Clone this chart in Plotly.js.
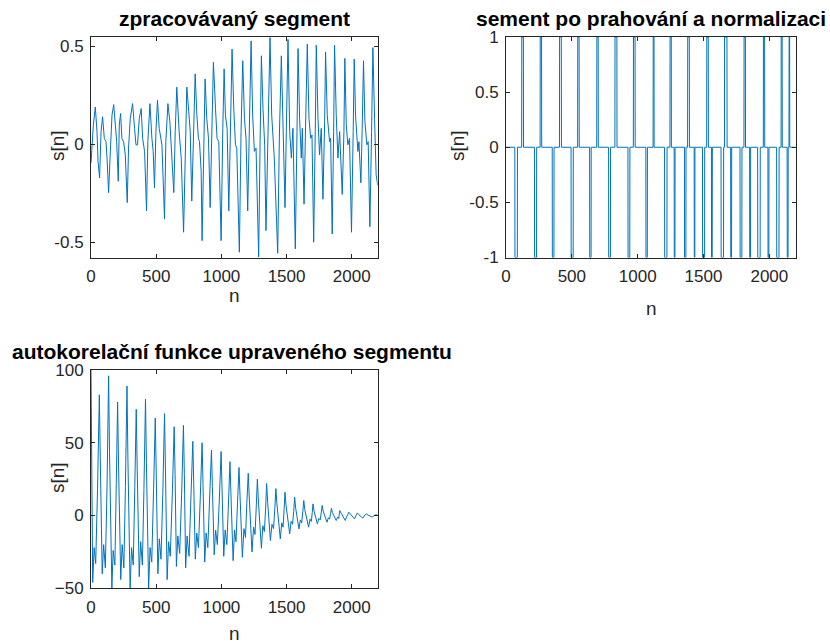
<!DOCTYPE html>
<html>
<head>
<meta charset="utf-8">
<script src="https://cdn.plot.ly/plotly-3.0.1.min.js"></script>
<style>html,body{margin:0;padding:0;background:#fff;}#chart{width:830px;height:643px;}</style>
</head>
<body>
<div id="chart"></div>
<script>
// ---- Data ----
// Subplot 1: processed segment s[n]
const n1 = [0,18,33,46,54,66,77,89,102,115,123,135,146,161,174,186,197,209,217,227,237,250,263,278,288,301,319,334,345,357,370,385,396,411,426,436,452,467,477,487,498,510,523,544,564,574,590,605,620,635,646,658,676,692,710,
725,735,750,761,773,789,799,812,824,832,845,852,865,875,888,901,914,926,939,955,967,980,998,1011,1021,1031,1044,1057,1069,1082,1095,1108,1118,1138,1151,1164,1177,1189,1202,1215,1228,1240,1253,1266,1286,1297,1307,1319,1332,1342,1355,1373,1386,1399,1406,1432,1445,1460,
1473,1480,1488,1498,1511,1524,1537,1549,1567,1580,1588,1600,1613,1621,1634,1646,1659,1672,1685,1695,1708,1720,1728,1741,1753,1766,1779,1792,1799,1812,1830,1838,1850,1861,1868,1881,1894,1907,1927,1940,1947,1958,1970,1983,1998,2011,2019,2029,2047,2055,2070,2080,2090,2101,2116,2126,2139,2152,2162,2175,2187,2199];
const s1 = [-0.096,0.098,0.19,0.064,-0.088,-0.172,0.064,0.14,0.03,0.013,-0.071,-0.247,-0.071,0.148,0.202,0.081,0.013,-0.189,0.098,0.157,0.03,0.013,-0.054,-0.298,-0.02,0.131,0.207,0.081,-0.003,-0.003,0.131,0.182,0.03,-0.037,-0.34,0.013,0.207,0.03,-0.037,-0.222,0.064,0.224,0.081,-0.003,-0.382,0.013,0.207,0.114,-0.071,-0.247,0.064,0.291,0.064,-0.071,-0.449,
0.013,0.291,0.165,0.064,-0.29,0.148,0.359,0.148,0.03,0.013,-0.138,-0.492,-0.02,0.333,0.131,0.03,-0.323,0.064,0.418,0.182,0.03,0.013,-0.492,0.081,0.384,0.148,0.081,-0.34,0.114,0.485,0.182,-0.003,-0.02,-0.551,0.064,0.426,0.131,0.03,-0.34,0.064,0.527,0.148,-0.037,-0.02,-0.576,0.013,0.451,0.182,-0.003,-0.441,0.064,0.544,0.148,-0.003,-0.071,-0.556,0.047,0.451,
0.131,-0.003,-0.323,0.064,0.535,0.064,-0.071,0.081,-0.534,0.064,0.488,0.131,-0.071,0.081,-0.306,0.098,0.51,0.131,0.03,0.047,-0.5,0.064,0.505,0.131,-0.054,0.081,-0.281,0.114,0.471,0.148,0.013,0.03,-0.458,0.064,0.505,0.148,-0.071,0.064,-0.256,0.064,0.438,0.098,-0.003,0.03,-0.449,0.064,0.434,0.148,-0.037,0.013,-0.197,0.081,0.426,0.114,-0.003,0.013,-0.421,0.064,0.493,0.131,-0.155,-0.21];

// Subplot 2: clipped & normalised segment, pulses (start, end sample)
const posStart = [120,260,407,545,690,828,968,1118,1246,1380,1525,1660,1808,1955,2090,2150];
const posEnd   = [132,270,420,555,700,842,980,1124,1255,1392,1536,1678,1818,1964,2097,2154];
const negStart = [68,217,352,495,636,780,927,1063,1205,1278,1356,1430,1493,1561,1634,1707,1778,1851,1912,1990,2056,2136];
const negEnd   = [86,232,364,510,646,793,940,1073,1222,1283,1366,1434,1508,1566,1652,1713,1791,1857,1930,1996,2073,2142];
const segLength = 2199;

// Subplot 3: autocorrelation of the processed segment
const n3 = [0,5,13,24,36,50, 64,71,86,97,110,123, 135,142,160,170,183,194, 204,211,228,239,252,264, 276,283,300,311,324,336,
347,354,370,381,394,406, 418,425,442,453,466,480, 493,500,513,524,537,551, 564,571,584,595,608,624, 638,645,655,666,680,695,
709,716,726,737,752,767, 781,788,800,811,824,838, 852,859,872,883,896,910, 924,931,945,956,969,984, 998,1005,1018,1029,1042,1055,
1066,1073,1090,1101,1112,1124, 1135,1143,1161,1173,1185,1195, 1206,1214,1235,1247,1258,1268, 1276,1284,1307,1318,1330,1340,
1347,1355,1376,1388,1400,1410, 1418,1426,1452,1463,1473,1481, 1488,1496,1524,1535,1546,1555, 1562,1570,1595,1606,1616,1625,
1632,1640,1669,1680,1690,1697, 1703,1711,1736,1748,1758,1766, 1773,1781,1810,1821,1830,1838, 1844,1852,1881,1892,1900,1904,
1908,1920,1950,1960,1970, 1978,1990,2021,2035, 2044,2055,2085,2100, 2112,2125,2157,2175, 2190,2199];
const r3 = [100,40,-46,-22,-33,18, 83,40,-40,-20,-36,20, 96,44,-50,-24,-34,22, 78,36,-44,-20,-36,20, 89,40,-50,-22,-34,20,
73,34,-42,-18,-34,18, 80,36,-50,-22,-32,18, 67,30,-40,-16,-30,16, 70,32,-44,-18,-28,16, 61,28,-35,-14,-26,14,
62,28,-36,-14,-28,14, 51,22,-30,-12,-22,12, 50,22,-32,-12,-22,12, 45,20,-27,-10,-20,10, 44,19,-28,-10,-20,10,
37,16,-31,-10,-18,9, 33,14,-28.7,-9,-15,8, 29,12,-25,-8,-13,7, 25,10,-22.5,-7,-11,6,
22,9,-17.2,-6,-9,5, 18.5,8,-16,-5,-8,4, 16,7,-12.6,-4,-6,3, 12.6,5,-9.2,-3,-5,3,
10.3,4,-8,-2.5,-4,2, 8,3,-5.7,-2,-3,2, 6.9,3,-4.6,-1.5,-2.5,1.5, 5,2,-3.4,-1,-2,1,
3.4,1.5,-3.4,-1,0.8, 2.3,1,-2.3,0.5, 1.8,0.5,-1.8,0.3, 1.1,0.3,-1.1,0.2, 0.5,0];

const xTicks = [0,500,1000,1500,2000];
const titles = ['zpracovávaný segment','sement po prahování a normalizaci','autokorelační funkce upraveného segmentu'];
const xLabel = 'n';
const yLabel = 's[n]';

// ---- Build clipped series from the pulse list ----
const pulses = [];
posStart.forEach((s,i)=>pulses.push({s:s,e:posEnd[i],v:1}));
negStart.forEach((s,i)=>pulses.push({s:s,e:negEnd[i],v:-1}));
pulses.sort((a,b)=>a.s-b.s);
const n2 = [0], s2 = [0];
pulses.forEach(p=>{ n2.push(p.s-1,p.s,p.e,p.e+1); s2.push(0,p.v,p.v,0); });
n2.push(segLength); s2.push(0);

// ---- Layout helpers ----
const W = 830, H = 643;
const px = x => x / W;
const py = y => 1 - y / H;
const LINE = '#0072BD';
const AX = '#262626';
const FONT = '"Liberation Sans", Arial, Helvetica, sans-serif';

function axis(domain, range, anchor, tickvals, ticktext) {
  const a = {
    domain: domain, range: range, autorange: false, anchor: anchor,
    showline: true, mirror: 'ticks', linecolor: AX, linewidth: 1,
    ticks: 'inside', ticklen: 4, tickwidth: 1, tickcolor: AX,
    showgrid: false, zeroline: false, fixedrange: true,
    tickfont: {family: FONT, size: 17, color: AX},
    ticklabelstandoff: 3,
    tickvals: tickvals
  };
  if (ticktext) a.ticktext = ticktext;
  return a;
}

const traces = [
  {x: n1, y: s1, type: 'scatter', mode: 'lines', line: {color: LINE, width: 1}, xaxis: 'x', yaxis: 'y', hoverinfo: 'skip'},
  {x: n2, y: s2, type: 'scatter', mode: 'lines', line: {color: LINE, width: 1}, xaxis: 'x2', yaxis: 'y2', hoverinfo: 'skip'},
  {x: n3, y: r3, type: 'scatter', mode: 'lines', line: {color: LINE, width: 1}, xaxis: 'x3', yaxis: 'y3', hoverinfo: 'skip'}
];

const ann = (text, x, y, opts) => Object.assign({
  text: text, x: px(x), y: py(y), xref: 'paper', yref: 'paper',
  xanchor: 'center', yanchor: 'middle', showarrow: false
}, opts || {});

const titleFont = {family: FONT, size: 21, color: '#000'};
const labelFont = {family: FONT, size: 19, color: AX};

const layout = {
  width: W, height: H,
  margin: {l: 0, r: 0, t: 0, b: 0},
  paper_bgcolor: '#fff', plot_bgcolor: '#fff',
  showlegend: false,
  xaxis:  axis([px(91), px(377.7)], [0, 2199], 'y', xTicks),
  yaxis:  axis([py(257.5), py(37)], [-0.578, 0.547], 'x', [-0.5, 0, 0.5], ['-0.5', '0', '0.5']),
  xaxis2: axis([px(506), px(795.7)], [0, 2200], 'y2', xTicks),
  yaxis2: axis([py(257.5), py(37)], [-1, 1], 'x2', [-1, -0.5, 0, 0.5, 1], ['-1', '-0.5', '0', '0.5', '1']),
  xaxis3: axis([px(91), px(377.7)], [0, 2199], 'y3', xTicks),
  yaxis3: axis([py(588.3), py(370)], [-50, 100], 'x3', [-50, 0, 50, 100]),
  annotations: [
    ann('<b>' + titles[0] + '</b>', 234, 18, {font: titleFont}),
    ann('<b>' + titles[1] + '</b>', 651, 18, {font: titleFont}),
    ann('<b>' + titles[2] + '</b>', 232, 351, {font: titleFont}),
    ann(xLabel, 234, 295, {font: labelFont}),
    ann(xLabel, 651, 308, {font: labelFont}),
    ann(xLabel, 234, 633, {font: labelFont}),
    ann(yLabel, 57, 146, {font: labelFont, textangle: -90}),
    ann(yLabel, 457, 146, {font: labelFont, textangle: -90}),
    ann(yLabel, 57, 478, {font: labelFont, textangle: -90})
  ]
};

Plotly.newPlot('chart', traces, layout, {staticPlot: true, displayModeBar: false});
</script>
</body>
</html>
